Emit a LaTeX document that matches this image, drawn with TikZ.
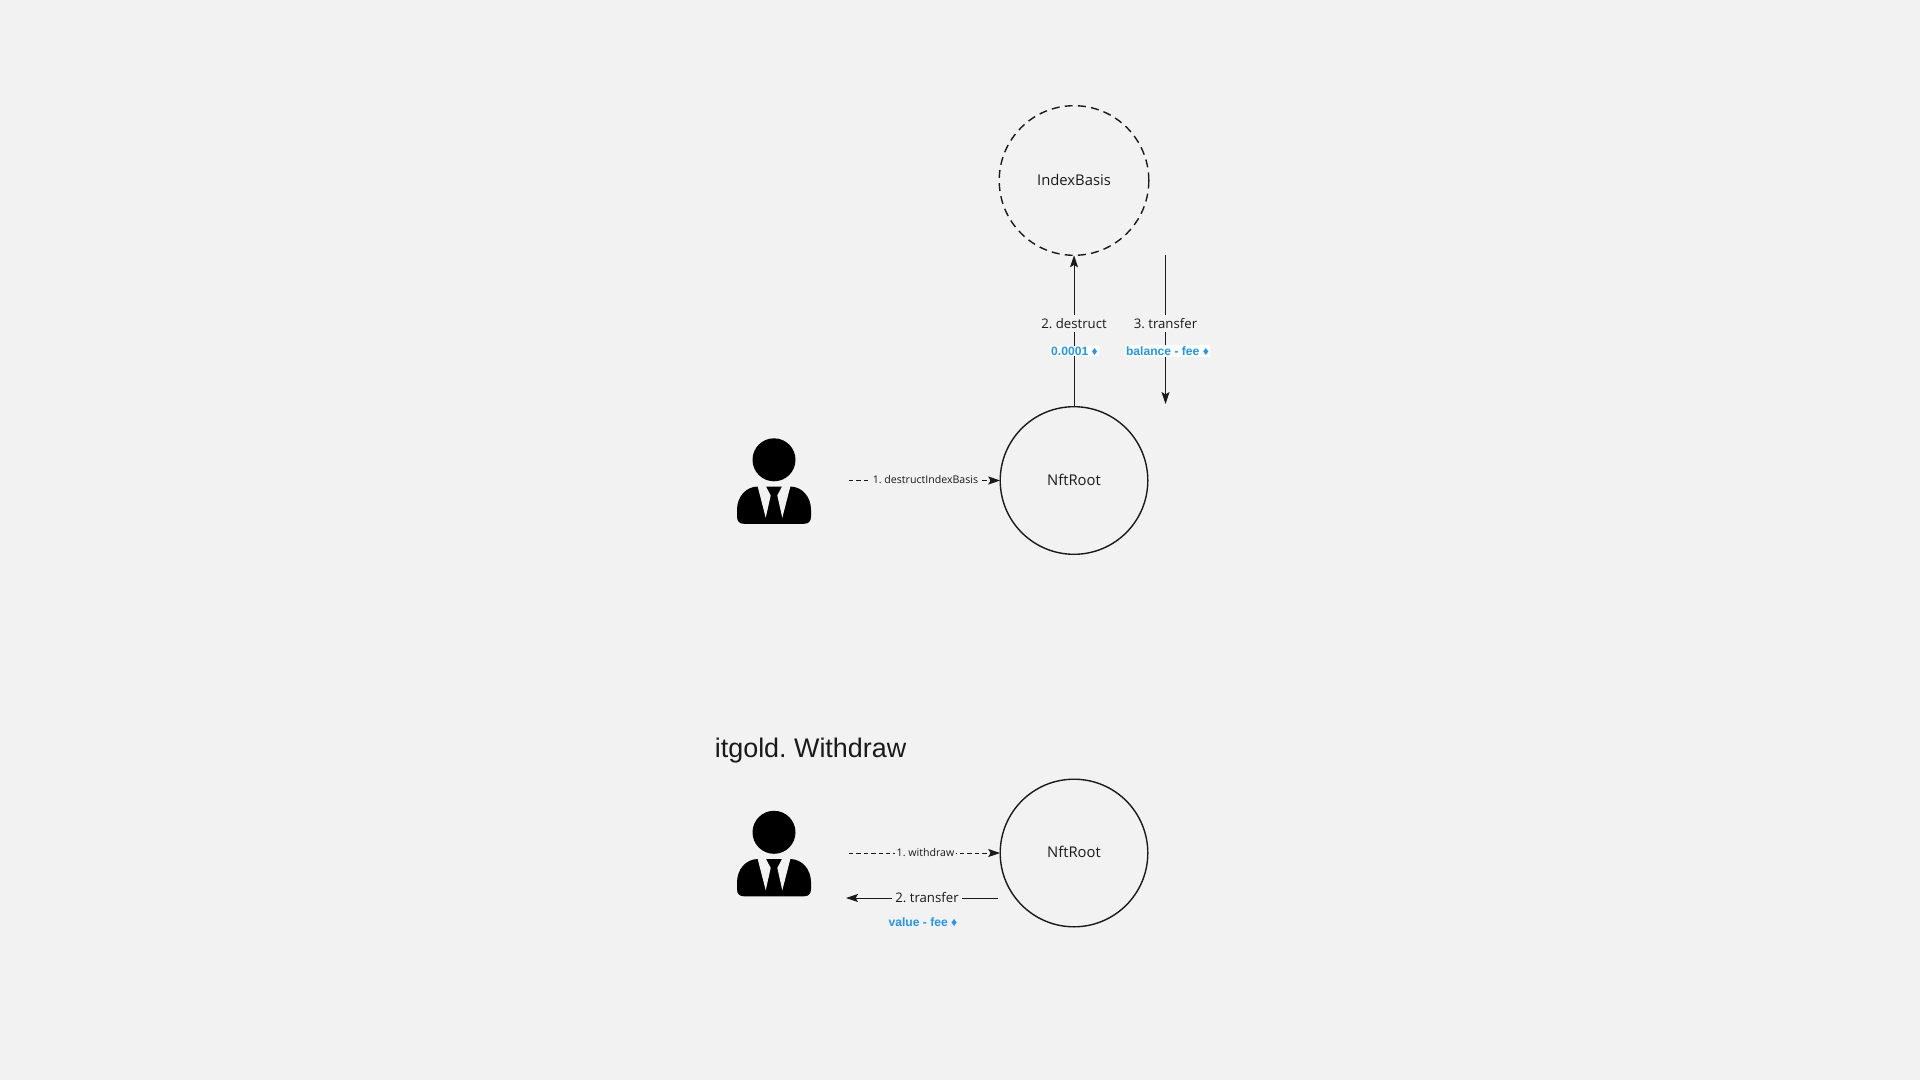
\documentclass[tikz,border=0pt]{standalone}
\usepackage{fontspec}
\setmainfont{Open Sans}
\newfontfamily\arialfont{Liberation Sans}
\usetikzlibrary{arrows.meta}
\definecolor{bgc}{HTML}{F2F2F2}
\definecolor{ink}{HTML}{1A1A1A}
\definecolor{bluetxt}{HTML}{2196F3}
\newcommand{\personicon}[1]{%
  \begin{scope}[shift={(#1)}]
    \fill[black] (0,0) circle[radius=21.5];
    \fill[black] (-16,26.7) .. controls (-28,26.7) and (-37,37) .. (-37,50) -- (-37,57)
      .. controls (-37,62) and (-34,64) .. (-30,64) -- (30,64)
      .. controls (34,64) and (37,62) .. (37,57) -- (37,50)
      .. controls (37,37) and (28,26.7) .. (16,26.7) -- cycle;
    \fill[bgc] (-16.5,26) -- (-8,26) -- (-8,26.7) -- (-3.3,35.7) -- (-8.3,58) -- cycle;
    \fill[bgc] (16.5,26) -- (8,26) -- (8,26.7) -- (3.3,35.7) -- (8.3,58) -- cycle;
  \end{scope}}
\tikzset{
  x=0.5pt,y=-0.5pt,
  role/.style={circle,draw=ink,line width=0.7pt,minimum size=73.8pt,inner sep=0pt,outer sep=0pt,
    text=ink,font=\frenchspacing\fontsize{7.4}{10}\selectfont},
  dashedrole/.style={role,minimum size=74.8pt,dash pattern=on 4pt off 2.6pt},
  link/.style={draw=ink,line width=0.45pt,-{Stealth[length=6pt,width=4pt,inset=1.2pt]}},
  dashlink/.style={link,dash pattern=on 2.2pt off 1.5pt},
  steplabel/.style={fill=bgc,text=ink,inner sep=1.5pt,font=\frenchspacing\fontsize{6.6}{9}\selectfont},
  smalllabel/.style={fill=bgc,text=ink,inner sep=1.1pt,font=\frenchspacing\fontsize{5.3}{7}\selectfont},
  amount/.style={text=bluetxt,inner sep=0.6pt,font=\arialfont\bfseries\fontsize{6.05}{7}\selectfont},
  title/.style={text=ink,inner sep=0pt,anchor=base west,font=\frenchspacing\arialfont\fontsize{13.45}{16}\selectfont},
}
\begin{document}
\begin{tikzpicture}
\useasboundingbox (0,0) rectangle (1920,1080);
\fill[bgc] (0,0) rectangle (1920,1080);

\node[dashedrole] (ib) at (1074,180.5) {\raisebox{0.5pt}{IndexBasis}};
\node[role] (rootA) at (1074,480.5) {\raisebox{0.5pt}{NftRoot}};
\node[role] (rootB) at (1074,853) {\raisebox{1pt}{NftRoot}};

\personicon{774,459.8}
\personicon{774,832.3}

\coordinate (userA) at (849,480.5);
\coordinate (userB) at (849,853);
\coordinate (xferAtop) at (1165.5,255);
\coordinate (xferAend) at (1165.5,404);
\coordinate (xferBstart) at (998,898);
\coordinate (xferBend) at (846,898);

\draw[link] (rootA.north) -- (ib.south);
\draw[link] (xferAtop) -- (xferAend);
\draw[dashlink] (userA) -- (rootA.west);
\draw[dashlink] (userB) -- (rootB.west);
\draw[link] (xferBstart) -- (xferBend);

\node[steplabel] (destruct) at (1074,323.6) {2. destruct};
\node[amount,fill=white] (amtA) at (1074.5,351) {0.0001 ♦};
\node[steplabel] (transA) at (1165.5,323.6) {3. transfer};
\node[amount,fill=white] (amtB) at (1167.5,351) {balance - fee ♦};
\node[smalllabel] (lblA) at (925.5,480) {1. destructIndexBasis};
\node[smalllabel] (lblB) at (925.5,852.5) {1. withdraw};
\node[steplabel] (transB) at (927,897.5) {2. transfer};
\node[amount] (amtC) at (923,922) {value - fee ♦};
\node[title] (ttl) at (714.5,757) {itgold. Withdraw};
\end{tikzpicture}
\end{document}
